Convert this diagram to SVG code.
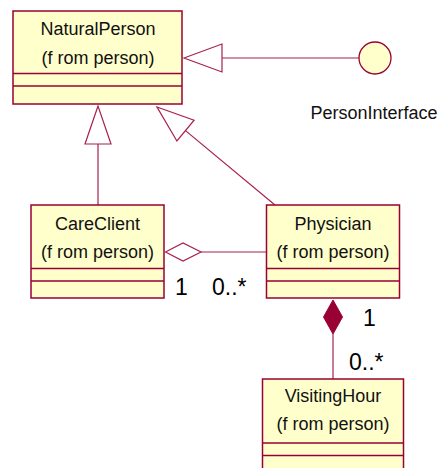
<svg xmlns="http://www.w3.org/2000/svg" width="442" height="468" viewBox="0 0 442 468">
  <style>
    .box { fill: #ffffcc; stroke: #990033; stroke-width: 1.5; }
    .sep { fill: none; stroke: #990033; stroke-width: 1.3; }
    .line { fill: none; stroke: #a8204f; stroke-width: 1.2; }
    .hollow { fill: #ffffff; stroke: #a8204f; stroke-width: 1.2; }
    .solid { fill: #990033; stroke: #990033; stroke-width: 1; }
    .name { font-family: "Liberation Sans", Arial, sans-serif; font-size: 18px; fill: #111111; text-anchor: middle; }
    .mult { font-family: "Liberation Sans", Arial, sans-serif; font-size: 23px; fill: #000000; }
  </style>
  <rect width="442" height="468" fill="#ffffff"/>

  <!-- connectors -->
  <g id="connectors">
    <!-- NaturalPerson realizes PersonInterface -->
    <line class="line" x1="222" y1="58" x2="359" y2="58"/>
    <polygon class="hollow" points="184,58 222,44 222,72"/>
    <!-- CareClient generalizes to NaturalPerson -->
    <line class="line" x1="98" y1="144" x2="98" y2="205"/>
    <polygon class="hollow" points="98,106 85,144 111,144"/>
    <!-- Physician generalizes to NaturalPerson -->
    <line class="line" x1="185.5" y1="130.6" x2="275" y2="205"/>
    <polygon class="hollow" points="157,107 194.1,120.2 176.9,141"/>
    <!-- CareClient aggregates Physician -->
    <line class="line" x1="201" y1="252" x2="266" y2="252"/>
    <polygon class="hollow" points="165.5,252 183,243 201,252 183,261"/>
    <!-- Physician composes VisitingHour -->
    <line class="line" x1="333" y1="334" x2="333" y2="379"/>
    <polygon class="solid" points="333,300 342.5,317 333,334 323.5,317"/>
    <!-- multiplicities -->
    <text class="mult" x="175" y="295">1</text>
    <text class="mult" x="212" y="295">0..*</text>
    <text class="mult" x="363" y="326">1</text>
    <text class="mult" x="349" y="370">0..*</text>
  </g>

  <g id="NaturalPerson">
    <rect class="box" x="13" y="11" width="169" height="93"/>
    <line class="sep" x1="13" y1="73.5" x2="182" y2="73.5"/>
    <line class="sep" x1="13" y1="86" x2="182" y2="86"/>
    <text class="name" x="98" y="34.5">NaturalPerson</text>
    <text class="name" x="98" y="63.5">(f rom person)</text>
  </g>

  <g id="PersonInterface">
    <circle cx="375" cy="58" r="16" fill="#ffffcc" stroke="#990033" stroke-width="1.3"/>
    <text class="name" x="374" y="119">PersonInterface</text>
  </g>

  <g id="CareClient">
    <rect class="box" x="31" y="205" width="133" height="93"/>
    <line class="sep" x1="31" y1="268.5" x2="164" y2="268.5"/>
    <line class="sep" x1="31" y1="281" x2="164" y2="281"/>
    <text class="name" x="97.5" y="230">CareClient</text>
    <text class="name" x="97.5" y="257.5">(f rom person)</text>
  </g>

  <g id="Physician">
    <rect class="box" x="266.5" y="205" width="133" height="93"/>
    <line class="sep" x1="266.5" y1="268.5" x2="399.5" y2="268.5"/>
    <line class="sep" x1="266.5" y1="281" x2="399.5" y2="281"/>
    <text class="name" x="333" y="230">Physician</text>
    <text class="name" x="333" y="257.5">(f rom person)</text>
  </g>

  <g id="VisitingHour">
    <rect class="box" x="262.5" y="379" width="141" height="100"/>
    <line class="sep" x1="262.5" y1="443" x2="403.5" y2="443"/>
    <line class="sep" x1="262.5" y1="455.5" x2="403.5" y2="455.5"/>
    <text class="name" x="333" y="402">VisitingHour</text>
    <text class="name" x="333" y="430">(f rom person)</text>
  </g>
</svg>
